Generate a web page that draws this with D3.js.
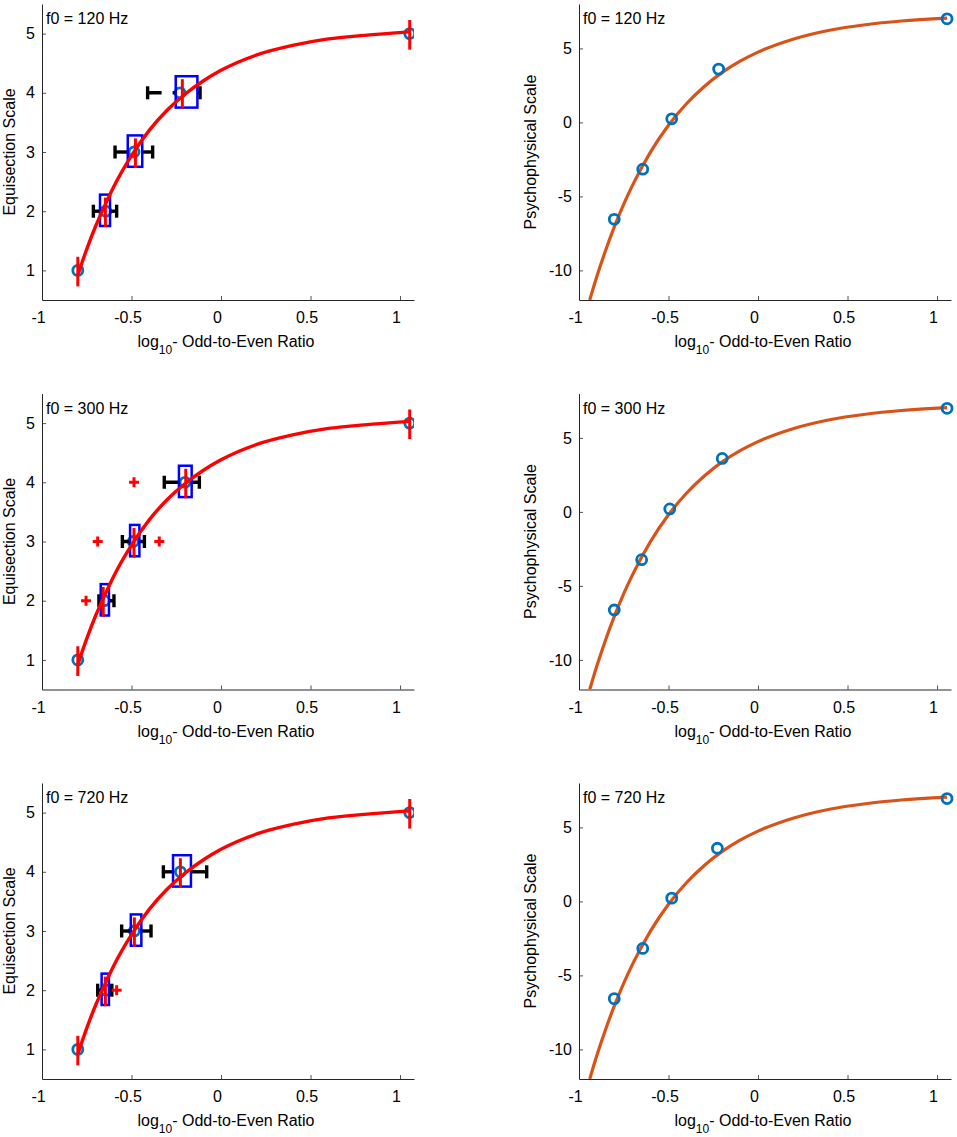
<!DOCTYPE html>
<html>
<head>
<meta charset="utf-8">
<script src="https://cdn.jsdelivr.net/npm/d3@7"></script>
<style>
  body { margin: 0; background: #fff; }
  text { font-family: "Liberation Sans", Arial, Helvetica, sans-serif; }
</style>
</head>
<body>
<div id="chart"></div>
<script>
// ---- data ----
const xTicks = [-1, -0.5, 0, 0.5, 1];
const equiTicks = [1, 2, 3, 4, 5];
const psyTicks = [-10, -5, 0, 5];
const levels = [1, 2, 3, 4, 5];
const f0Labels = ["f0 = 120 Hz", "f0 = 300 Hz", "f0 = 720 Hz"];

// equisection: mean position (circles) and boxplot stats per level
const meanX120 = [-0.80, -0.644, -0.486, -0.229, 1.054];
const median120 = [-0.80, -0.646, -0.478, -0.216, 1.054];
const q1_120 = [-0.80, -0.676, -0.521, -0.253, 1.054];
const q3_120 = [-0.80, -0.620, -0.440, -0.132, 1.054];
const lo120 = [-0.80, -0.713, -0.592, -0.410, 1.054];
const hi120 = [-0.80, -0.583, -0.382, -0.117, 1.054];
const outliers120 = [];

const meanX300 = [-0.80, -0.652, -0.490, -0.201, 1.054];
const median300 = [-0.80, -0.658, -0.486, -0.197, 1.054];
const q1_300 = [-0.80, -0.672, -0.508, -0.235, 1.054];
const q3_300 = [-0.80, -0.626, -0.456, -0.164, 1.054];
const lo300 = [-0.80, -0.682, -0.551, -0.317, 1.054];
const hi300 = [-0.80, -0.598, -0.428, -0.121, 1.054];
const outliers300 = [[-0.754, 2], [-0.689, 3], [-0.345, 3], [-0.486, 4]];

const meanX720 = [-0.80, -0.642, -0.484, -0.227, 1.054];
const median720 = [-0.80, -0.646, -0.484, -0.227, 1.054];
const q1_720 = [-0.80, -0.667, -0.504, -0.268, 1.054];
const q3_720 = [-0.80, -0.626, -0.445, -0.168, 1.054];
const lo720 = [-0.80, -0.689, -0.555, -0.322, 1.054];
const hi720 = [-0.80, -0.610, -0.391, -0.080, 1.054];
const outliers720 = [[-0.583, 2]];

// psychophysical scale points
const psyX120 = [-0.803, -0.644, -0.482, -0.220, 1.056];
const psyY120 = [-6.55, -3.16, 0.24, 3.60, 7.00];
const psyX300 = [-0.803, -0.650, -0.493, -0.200, 1.056];
const psyY300 = [-6.63, -3.23, 0.20, 3.61, 7.00];
const psyX720 = [-0.803, -0.644, -0.482, -0.227, 1.056];
const psyY720 = [-6.57, -3.18, 0.22, 3.59, 6.95];

// fitted curves (same shape in all three rows)
const equiFitX = [-0.8, -0.75, -0.7, -0.65, -0.6, -0.5, -0.4, -0.3, -0.2, -0.1, 0, 0.2, 0.4, 0.6, 0.8, 1.054];
const equiFitY = [0.92, 1.36, 1.75, 2.09, 2.41, 2.94, 3.37, 3.71, 3.98, 4.20, 4.38, 4.64, 4.80, 4.91, 4.97, 5.03];
const psyFitX = [-0.94, -0.9, -0.85, -0.8, -0.75, -0.7, -0.6, -0.5, -0.4, -0.3, -0.2, -0.1, 0, 0.2, 0.4, 0.6, 0.8, 1.056];
const psyFitY = [-12.0, -10.4, -8.6, -6.98, -5.52, -4.22, -1.99, -0.19, 1.26, 2.43, 3.38, 4.14, 4.75, 5.64, 6.23, 6.6, 6.85, 7.05];

const rows = [
  { label: f0Labels[0], meanX: meanX120, med: median120, q1: q1_120, q3: q3_120, lo: lo120, hi: hi120, out: outliers120, px: psyX120, py: psyY120 },
  { label: f0Labels[1], meanX: meanX300, med: median300, q1: q1_300, q3: q3_300, lo: lo300, hi: hi300, out: outliers300, px: psyX300, py: psyY300 },
  { label: f0Labels[2], meanX: meanX720, med: median720, q1: q1_720, q3: q3_720, lo: lo720, hi: hi720, out: outliers720, px: psyX720, py: psyY720 }
];

// ---- layout ----
const W = 957, H = 1137;
const rowTops = [4, 393.5, 783];
const plotH = 296;
const colLeft = [42, 579];
const plotW = 372;
const fontSize = 16;
const axisColor = "#262626";

const svg = d3.select("#chart").append("svg")
  .attr("width", W)
  .attr("height", H);

const defs = svg.append("defs");

function drawAxes(g, x, y, yTicks, yLabel) {
  const xAxis = g.append("g")
    .attr("transform", `translate(0,${plotH})`)
    .call(d3.axisBottom(x).tickValues(xTicks).tickSizeInner(-4).tickSizeOuter(0).tickPadding(12));
  const yAxis = g.append("g")
    .call(d3.axisLeft(y).tickValues(yTicks).tickSizeInner(-4).tickSizeOuter(0).tickPadding(7));

  [xAxis, yAxis].forEach(a => {
    a.attr("font-size", null).attr("font-family", null);
    a.select(".domain").attr("stroke", axisColor).attr("stroke-width", 1);
    a.selectAll(".tick line").attr("stroke", axisColor).attr("stroke-width", 0.8);
    a.selectAll(".tick text").attr("fill", "#000").style("font-size", fontSize + "px")
      .text(d => d < 0 ? "-" + Math.abs(d) : d);
  });
  xAxis.selectAll(".tick text").attr("dx", -4);

  // x label with subscript
  const xl = g.append("text")
    .attr("x", plotW / 2 - 2)
    .attr("y", plotH + 47)
    .attr("text-anchor", "middle")
    .style("font-size", fontSize + "px")
    .attr("fill", "#000");
  xl.append("tspan").text("log");
  xl.append("tspan").attr("dy", 7).style("font-size", "12px").text("10");
  xl.append("tspan").attr("dy", -7).text("- Odd-to-Even Ratio");

  g.append("text")
    .attr("transform", `translate(${yLabel.dx},${plotH / 2}) rotate(-90)`)
    .attr("text-anchor", "middle")
    .style("font-size", fontSize + "px")
    .attr("fill", "#000")
    .text(yLabel.text);
}

rows.forEach((r, i) => {
  const top = rowTops[i];

  // ---------- left: equisection ----------
  const gL = svg.append("g").attr("transform", `translate(${colLeft[0]},${top})`);
  const x = d3.scaleLinear().domain([-1, 1.078]).range([0, plotW]);
  const yE = d3.scaleLinear().domain([0.5, 5.5]).range([plotH, 0]);

  const clipL = "clipL" + i;
  defs.append("clipPath").attr("id", clipL)
    .append("rect").attr("width", plotW).attr("height", plotH);

  drawAxes(gL, x, yE, equiTicks, { text: "Equisection Scale", dx: -27 });

  const marksL = gL.append("g").attr("clip-path", `url(#${clipL})`);

  // mean circles
  marksL.selectAll("circle.mean").data(levels).enter().append("circle")
    .attr("class", "mean")
    .attr("cx", (d, k) => x(r.meanX[k]))
    .attr("cy", d => yE(d))
    .attr("r", 5)
    .attr("fill", "none")
    .attr("stroke", "#0072BD")
    .attr("stroke-width", 2.8);

  const halfBox = 0.25, halfCap = 0.11;

  // whiskers (dashed, lower from adjacent value to q1, upper from q3 outward)
  levels.forEach((lv, k) => {
    if (r.lo[k] < r.q1[k]) {
      marksL.append("line")
        .attr("x1", x(r.lo[k])).attr("x2", x(r.q1[k]))
        .attr("y1", yE(lv)).attr("y2", yE(lv))
        .attr("stroke", "#000").attr("stroke-width", 3.4)
        .attr("stroke-dasharray", "14,11");
      marksL.append("line")
        .attr("x1", x(r.lo[k])).attr("x2", x(r.lo[k]))
        .attr("y1", yE(lv - halfCap)).attr("y2", yE(lv + halfCap))
        .attr("stroke", "#000").attr("stroke-width", 3.4);
    }
    if (r.hi[k] > r.q3[k]) {
      marksL.append("line")
        .attr("x1", x(r.q3[k])).attr("x2", x(r.hi[k]))
        .attr("y1", yE(lv)).attr("y2", yE(lv))
        .attr("stroke", "#000").attr("stroke-width", 3.4)
        .attr("stroke-dasharray", "16,11");
      marksL.append("line")
        .attr("x1", x(r.hi[k])).attr("x2", x(r.hi[k]))
        .attr("y1", yE(lv - halfCap)).attr("y2", yE(lv + halfCap))
        .attr("stroke", "#000").attr("stroke-width", 3.4);
    }
  });

  // boxes
  marksL.selectAll("rect.box").data(levels).enter().append("rect")
    .attr("class", "box")
    .attr("x", (d, k) => x(r.q1[k]))
    .attr("width", (d, k) => x(r.q3[k]) - x(r.q1[k]))
    .attr("y", d => yE(d + halfBox + 0.03))
    .attr("height", yE(0) - yE(2 * halfBox + 0.03))
    .attr("fill", "none")
    .attr("stroke", "#0000FF")
    .attr("stroke-width", 2.5);

  // medians
  marksL.selectAll("line.med").data(levels).enter().append("line")
    .attr("class", "med")
    .attr("x1", (d, k) => x(r.med[k]))
    .attr("x2", (d, k) => x(r.med[k]))
    .attr("y1", d => yE(d + halfBox - 0.02))
    .attr("y2", d => yE(d - halfBox - 0.02))
    .attr("stroke", "#FF0000")
    .attr("stroke-width", 3);

  // outliers
  marksL.selectAll("g.out").data(r.out).enter().append("g")
    .attr("class", "out")
    .attr("transform", d => `translate(${x(d[0])},${yE(d[1])})`)
    .each(function () {
      const s = d3.select(this);
      s.append("line").attr("x1", -5).attr("x2", 5).attr("stroke", "#FF0000").attr("stroke-width", 3);
      s.append("line").attr("y1", -5).attr("y2", 5).attr("stroke", "#FF0000").attr("stroke-width", 3);
    });

  // fitted curve
  const equiLine = d3.line()
    .x((d, k) => x(equiFitX[k]))
    .y(d => yE(d))
    .curve(d3.curveMonotoneX);
  marksL.append("path")
    .datum(equiFitY)
    .attr("d", equiLine)
    .attr("fill", "none")
    .attr("stroke", "#FF0000")
    .attr("stroke-width", 3.4);

  gL.append("text")
    .attr("x", 4)
    .attr("y", 20)
    .style("font-size", fontSize + "px")
    .attr("fill", "#000")
    .text(r.label);

  // ---------- right: psychophysical scale ----------
  const gR = svg.append("g").attr("transform", `translate(${colLeft[1]},${top})`);
  const yP = d3.scaleLinear().domain([-12, 8]).range([plotH, 0]);

  const clipR = "clipR" + i;
  defs.append("clipPath").attr("id", clipR)
    .append("rect").attr("width", plotW + 10).attr("y", -10).attr("height", plotH + 10);

  drawAxes(gR, x, yP, psyTicks, { text: "Psychophysical Scale", dx: -43 });

  const marksR = gR.append("g").attr("clip-path", `url(#${clipR})`);

  const psyLine = d3.line()
    .x((d, k) => x(psyFitX[k]))
    .y(d => yP(d))
    .curve(d3.curveMonotoneX);
  marksR.append("path")
    .datum(psyFitY)
    .attr("d", psyLine)
    .attr("fill", "none")
    .attr("stroke", "#D95319")
    .attr("stroke-width", 3.2);

  marksR.selectAll("circle").data(r.py).enter().append("circle")
    .attr("cx", (d, k) => x(r.px[k]))
    .attr("cy", d => yP(d))
    .attr("r", 5)
    .attr("fill", "none")
    .attr("stroke", "#0072BD")
    .attr("stroke-width", 2.8);

  gR.append("text")
    .attr("x", 4)
    .attr("y", 20)
    .style("font-size", fontSize + "px")
    .attr("fill", "#000")
    .text(r.label);
});
</script>
</body>
</html>
